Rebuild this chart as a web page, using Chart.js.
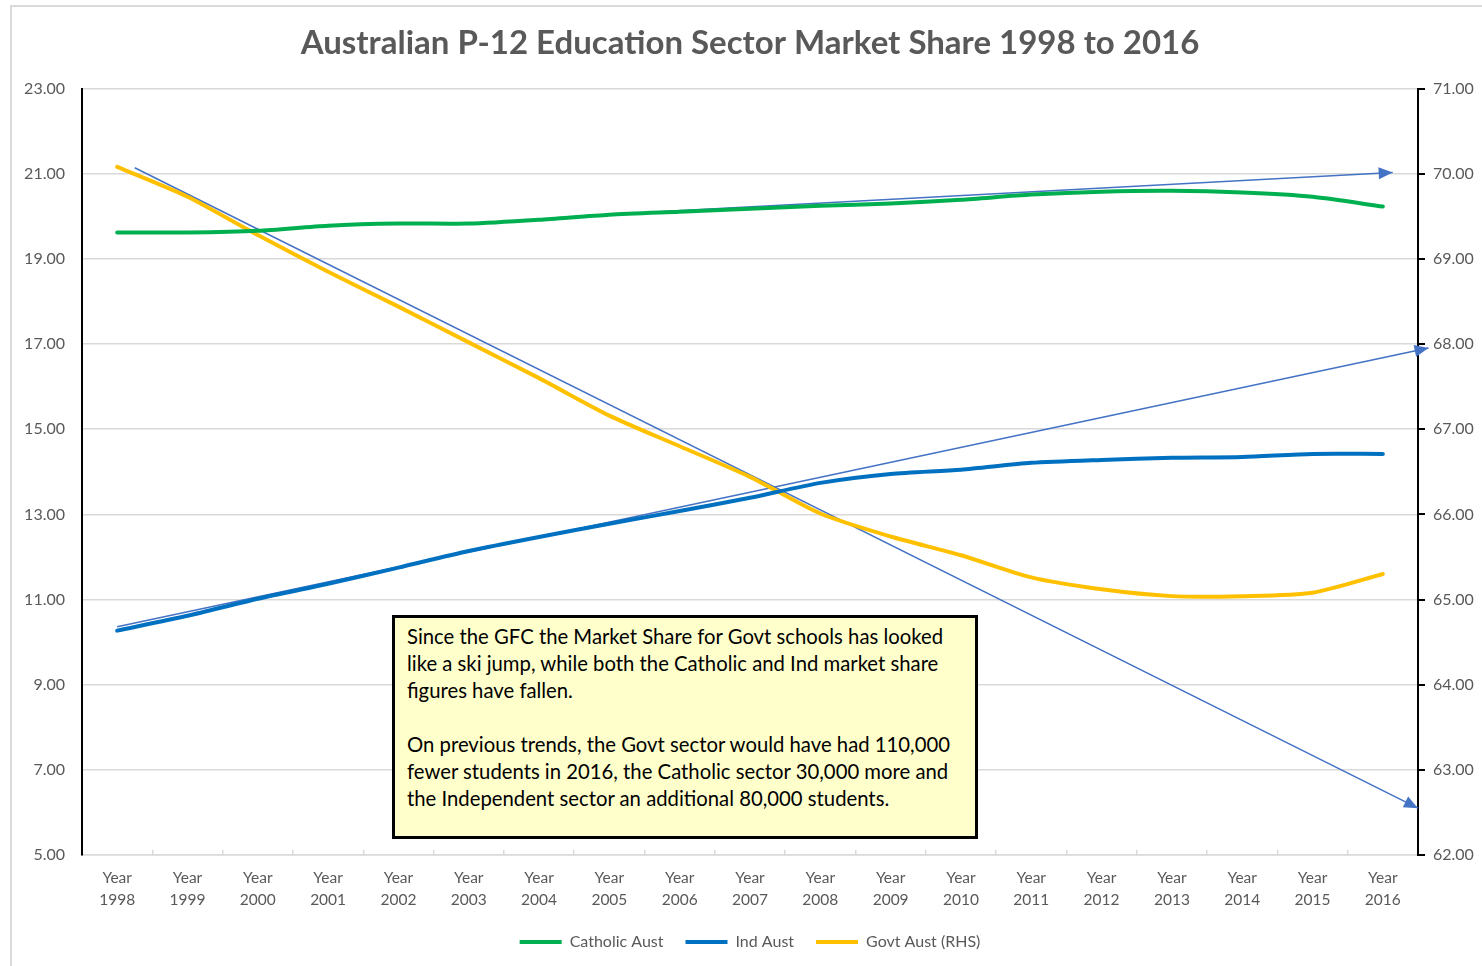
<!DOCTYPE html>
<html>
<head>
<meta charset="utf-8">
<title>Australian P-12 Education Sector Market Share</title>
<script src="https://cdn.jsdelivr.net/npm/chart.js@4.4.1/dist/chart.umd.min.js"></script>
<style>
  body { margin: 0; background: #fff; font-family: Lato, "Open Sans", sans-serif; }
  #wrap { position: relative; width: 1482px; height: 966px; overflow: hidden; }
  #frame { position: absolute; left: 10px; top: 5px; width: 1600px; height: 1100px; border: 2px solid #D9D9D9; }
  #chart-box { position: absolute; left: 0; top: 0; width: 1482px; height: 966px; }
  #note {
    position: absolute; left: 392px; top: 615px; width: 586px; height: 224px;
    box-sizing: border-box; background: #FFFFCC; border: 3px solid #000;
    padding: 5px 0 0 12px; font-size: 20.3px; line-height: 27px; color: #000; white-space: nowrap;
  }
</style>
</head>
<body>
<div id="wrap">
  <div id="frame"></div>
  <div id="chart-box"><canvas id="shareChart"></canvas></div>
  <div id="note">
    Since the GFC the Market Share for Govt schools has looked<br>
    like a ski jump, while both the Catholic and Ind market share<br>
    figures have fallen.<br>
    <br>
    On previous trends, the Govt sector would have had 110,000<br>
    fewer students in 2016, the Catholic sector 30,000 more and<br>
    the Independent sector an additional 80,000 students.
  </div>
</div>
<script>
const years = ["1998", "1999", "2000", "2001", "2002", "2003", "2004", "2005", "2006", "2007",
               "2008", "2009", "2010", "2011", "2012", "2013", "2014", "2015", "2016"];

// market share, % (Catholic and Ind on left axis, Govt on right axis)
const catholicAust = [19.62, 19.62, 19.66, 19.78, 19.83, 19.83, 19.92, 20.04, 20.11, 20.18,
                      20.25, 20.30, 20.39, 20.51, 20.58, 20.60, 20.56, 20.46, 20.23];
const indAust = [10.27, 10.62, 11.02, 11.37, 11.75, 12.14, 12.47, 12.78, 13.08, 13.39,
                 13.74, 13.95, 14.05, 14.21, 14.28, 14.33, 14.35, 14.42, 14.42];
const govtAust = [70.08, 69.73, 69.28, 68.85, 68.44, 68.02, 67.60, 67.16, 66.80, 66.44,
                  66.01, 65.74, 65.52, 65.26, 65.12, 65.04, 65.04, 65.08, 65.30];

// trend arrows: [year index, value]
const catholicTrend = [[6.5, 20.00], [18.14, 21.03]];
const indTrend = [[0, 10.36], [18.65, 16.91]];
const govtTrend = [[0.25, 70.07], [18.5, 62.55]];

// axis ranges: [min, max, step]
const leftAxis = [5, 23, 2];
const rightAxis = [62, 71, 1];

const GREY_TEXT = "#595959";
const FONT = "Lato, 'Open Sans', sans-serif";

function toPoints(list) {
    return list.map(p => ({ x: p[0], y: p[1] }));
}

// Draw arrowheads at the end of the trend lines
const arrowHeads = {
    id: "arrowHeads",
    afterDatasetsDraw(chart) {
        const ctx = chart.ctx;
        chart.data.datasets.forEach((ds, i) => {
            if (!ds.arrow) return;
            const pts = chart.getDatasetMeta(i).data;
            const a = pts[pts.length - 2];
            const b = pts[pts.length - 1];
            const ang = Math.atan2(b.y - a.y, b.x - a.x);
            ctx.save();
            ctx.translate(b.x, b.y);
            ctx.rotate(ang);
            ctx.beginPath();
            ctx.moveTo(0, 0);
            ctx.lineTo(-14, -6);
            ctx.lineTo(-14, 6);
            ctx.closePath();
            ctx.fillStyle = ds.borderColor;
            ctx.fill();
            ctx.restore();
        });
    }
};

const trendStyle = {
    type: "line",
    xAxisID: "xt",
    borderColor: "#4472C4",
    borderWidth: 1.5,
    pointRadius: 0,
    tension: 0,
    clip: false,
    arrow: true
};

const seriesStyle = {
    borderWidth: 4,
    pointRadius: 0,
    tension: 0.25,
    fill: false,
    borderCapStyle: "round"
};

new Chart(document.getElementById("shareChart"), {
    type: "line",
    data: {
        labels: years.map(y => ["Year", y]),
        datasets: [
            { ...seriesStyle, label: "Catholic Aust", data: catholicAust, borderColor: "#00B050", backgroundColor: "#00B050", yAxisID: "y" },
            { ...seriesStyle, label: "Ind Aust", data: indAust, borderColor: "#0070C0", backgroundColor: "#0070C0", yAxisID: "y" },
            { ...seriesStyle, label: "Govt Aust (RHS)", data: govtAust, borderColor: "#FFC000", backgroundColor: "#FFC000", yAxisID: "y2" },
            { ...trendStyle, label: "Catholic trend", data: toPoints(catholicTrend), yAxisID: "y" },
            { ...trendStyle, label: "Ind trend", data: toPoints(indTrend), yAxisID: "y" },
            { ...trendStyle, label: "Govt trend", data: toPoints(govtTrend), yAxisID: "y2" }
        ]
    },
    options: {
        responsive: true,
        maintainAspectRatio: false,
        animation: false,
        layout: { padding: { top: 0, left: 18, right: 0, bottom: 6 } },
        scales: {
            x: {
                type: "category",
                offset: true,
                grid: { offset: true, drawOnChartArea: false, drawTicks: true, tickLength: -5, color: "#D9D9D9", lineWidth: 1.5 },
                border: { color: "#D9D9D9", width: 1.5 },
                ticks: { color: GREY_TEXT, font: { family: FONT, size: 15.5, lineHeight: 1.42 }, padding: 17, maxRotation: 0, autoSkip: false },
                afterFit: s => { s.height = 57; }
            },
            xt: {
                type: "linear",
                display: false,
                min: -0.5,
                max: 18.5
            },
            y: {
                position: "left",
                min: leftAxis[0],
                max: leftAxis[1],
                ticks: { stepSize: leftAxis[2], color: GREY_TEXT, font: { family: FONT, size: 16 }, padding: 17, callback: v => v.toFixed(2) },
                grid: { color: "#D9D9D9", lineWidth: 1.5, drawTicks: false },
                border: { color: "#000", width: 2 },
                afterFit: s => { s.width = 64; }
            },
            y2: {
                position: "right",
                min: rightAxis[0],
                max: rightAxis[1],
                ticks: { stepSize: rightAxis[2], color: GREY_TEXT, font: { family: FONT, size: 16 }, padding: 8, callback: v => v.toFixed(2) },
                grid: { drawOnChartArea: false, drawTicks: true, tickLength: 7, color: "#000", lineWidth: 2 },
                border: { color: "#000", width: 2 },
                afterFit: s => { s.width = 64; }
            }
        },
        plugins: {
            title: {
                display: true,
                text: "Australian P-12 Education Sector Market Share 1998 to 2016",
                color: GREY_TEXT,
                font: { family: FONT, size: 33, weight: "bold", lineHeight: 1.2 },
                padding: { top: 24, bottom: 25 }
            },
            legend: {
                position: "bottom",
                labels: {
                    usePointStyle: true,
                    pointStyle: "line",
                    pointStyleWidth: 42,
                    color: GREY_TEXT,
                    font: { family: FONT, size: 16 },
                    padding: 22,
                    filter: item => item.datasetIndex < 3
                }
            },
            tooltip: { enabled: false }
        }
    },
    plugins: [arrowHeads]
});
</script>
</body>
</html>
